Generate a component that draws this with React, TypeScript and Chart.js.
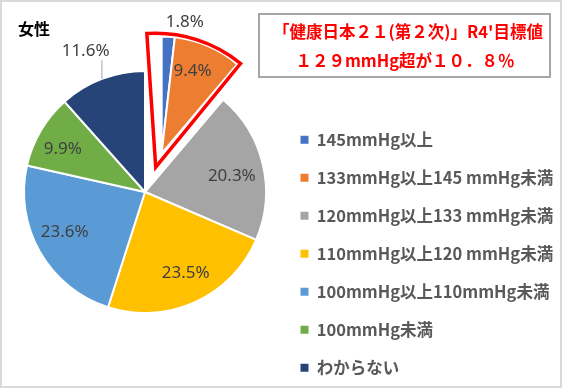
import React, { useEffect, useRef } from 'react';
import { Chart, registerables } from 'chart.js';

Chart.register(...registerables);

// ---- data ----
const categories = [
  '145mmHg以上',
  '133mmHg以上145 mmHg未満',
  '120mmHg以上133 mmHg未満',
  '110mmHg以上120 mmHg未満',
  '100mmHg以上110mmHg未満',
  '100mmHg未満',
  'わからない',
];
const values = [1.8, 9.4, 20.3, 23.5, 23.6, 9.9, 11.6];
const valueLabels = values.map((v) => v.toFixed(1) + '%');
const colors = ['#4472C4', '#ED7D31', '#A5A5A5', '#FFC000', '#5B9BD5', '#70AD47', '#264478'];
const explodedIdx = [0, 1];
const chartTitle = '女性';
const noteLines = ['「健康日本２１(第２次)」R4\'目標値', '１２９mmHg超が１０．８％'];

// ---- label placement (polar, relative to each slice) ----
const labelPlacement = [
  { f: 1.137, da: 6.8, leader: false },
  { f: 0.75, da: -2.7, leader: false },
  { f: 0.73, da: 2.6, leader: false },
  { f: 0.754, da: -2.1, leader: false },
  { f: 0.743, da: 3.1, leader: false },
  { f: 0.765, da: -3.1, leader: false },
  { f: 1.264, da: -2, leader: true },
];

const CJK = '"Noto Sans CJK JP", "Noto Sans", sans-serif';
const DEG = Math.PI / 180;
const EXPLODE_DIST = 42;
const EXPLODE_SCALE = 0.967;

const framePlugin = {
  id: 'frame',
  beforeDraw(chart: any) {
    const { ctx, width, height } = chart;
    ctx.save();
    ctx.fillStyle = '#FFFFFF';
    ctx.fillRect(0, 0, width, height);
    ctx.strokeStyle = '#D9D9D9';
    ctx.lineWidth = 2;
    ctx.strokeRect(1, 1, width - 3, height - 3);
    ctx.restore();
  },
};

const layoutPlugin = {
  id: 'fixedLayout',
  afterLayout(chart: any) {
    const left = 23, top = 70, size = 244;
    Object.assign(chart.chartArea, { left, top, right: left + size, bottom: top + size, width: size, height: size });
    const lg = chart.legend;
    if (lg) {
      lg.left = 279;
      lg.top = 110;
      lg.right = chart.width;
      lg.bottom = 480;
      lg.width = lg.right - lg.left;
      lg.height = lg.bottom - lg.top;
    }
  },
};

const explodePlugin = {
  id: 'explode',
  afterDatasetUpdate(chart: any, args: any) {
    const arcs = args.meta.data;
    const lead = arcs[explodedIdx[explodedIdx.length - 1]];
    const dir = (lead.startAngle + lead.endAngle) / 2;
    explodedIdx.forEach((i) => {
      const a = arcs[i];
      a.x += Math.cos(dir) * EXPLODE_DIST;
      a.y += Math.sin(dir) * EXPLODE_DIST;
      a.outerRadius *= EXPLODE_SCALE;
    });
  },
};

const overlayPlugin = {
  id: 'overlay',
  afterDatasetsDraw(chart: any) {
    const { ctx } = chart;
    const arcs = chart.getDatasetMeta(0).data;
    // red outline around exploded slices
    const first = arcs[explodedIdx[0]];
    const last = arcs[explodedIdx[explodedIdx.length - 1]];
    const dir = (last.startAngle + last.endAngle) / 2;
    const ax = first.x - Math.cos(dir) * 15;
    const ay = first.y - Math.sin(dir) * 15;
    const r = first.outerRadius + 17;
    ctx.save();
    ctx.beginPath();
    ctx.moveTo(ax, ay);
    ctx.arc(ax, ay, r, first.startAngle - 3.8 * DEG, last.endAngle - 1 * DEG);
    ctx.closePath();
    ctx.lineWidth = 3.5;
    ctx.strokeStyle = '#FF0000';
    ctx.lineJoin = 'miter';
    ctx.stroke();
    ctx.restore();

    // data labels
    ctx.save();
    ctx.font = '17px "Noto Sans", sans-serif';
    ctx.fillStyle = '#404040';
    ctx.textAlign = 'center';
    ctx.textBaseline = 'middle';
    arcs.forEach((a: any, i: number) => {
      const p = labelPlacement[i];
      const mid = (a.startAngle + a.endAngle) / 2;
      const ang = mid + p.da * DEG;
      const lx = a.x + Math.cos(ang) * a.outerRadius * p.f;
      const ly = a.y + Math.sin(ang) * a.outerRadius * p.f;
      ctx.fillText(valueLabels[i], lx, ly);
      if (p.leader) {
        const px = a.x + Math.cos(mid) * a.outerRadius;
        const py = a.y + Math.sin(mid) * a.outerRadius;
        ctx.beginPath();
        ctx.moveTo(px, py);
        ctx.lineTo(px, ly + 9);
        ctx.strokeStyle = '#A6A6A6';
        ctx.lineWidth = 1;
        ctx.stroke();
      }
    });
    ctx.restore();
  },
  afterDraw(chart: any) {
    const { ctx } = chart;
    ctx.save();
    ctx.strokeStyle = '#A6A6A6';
    ctx.lineWidth = 2;
    ctx.strokeRect(259, 14, 291, 63);
    ctx.fillStyle = '#FF0000';
    ctx.font = `bold 16.5px ${CJK}`;
    ctx.textAlign = 'center';
    ctx.textBaseline = 'middle';
    ctx.fillText(noteLines[0], 408, 32);
    ctx.fillText(noteLines[1], 405, 61);
    ctx.restore();
  },
};

export default function App() {
  const ref = useRef<HTMLCanvasElement | null>(null);
  useEffect(() => {
    if (!ref.current) return;
    const chart = new Chart(ref.current, {
      type: 'pie',
      data: {
        labels: categories,
        datasets: [
          {
            data: values,
            backgroundColor: colors,
            borderColor: '#FFFFFF',
            borderWidth: 2,
          },
        ],
      },
      options: {
        responsive: false,
        animation: false,
        layout: { padding: { left: 18, top: 0, right: 0, bottom: 0 } },
        plugins: {
          title: {
            display: true,
            text: chartTitle,
            align: 'start',
            color: '#000000',
            font: { family: CJK, size: 16, weight: 'bold' },
            padding: { top: 19, bottom: 0 },
          },
          legend: {
            display: true,
            position: 'right',
            align: 'start',
            labels: {
              boxWidth: 8,
              boxHeight: 8,
              padding: 21.5,
              color: '#595959',
              font: { family: CJK, size: 16.5, weight: 'bold' },
              generateLabels: () =>
                categories.map((c, i) => ({
                  text: c,
                  fillStyle: colors[i],
                  strokeStyle: colors[i],
                  lineWidth: 0,
                  hidden: false,
                  index: i,
                  fontColor: '#595959',
                })),
            },
          },
          tooltip: { enabled: false },
        },
      } as any,
      plugins: [framePlugin, layoutPlugin, explodePlugin, overlayPlugin],
    });
    return () => chart.destroy();
  }, []);
  return (
    <div style={{ position: 'fixed', left: 0, top: 0, width: 563, height: 389 }}>
      <canvas ref={ref} width={563} height={389} style={{ display: 'block' }} />
    </div>
  );
}
